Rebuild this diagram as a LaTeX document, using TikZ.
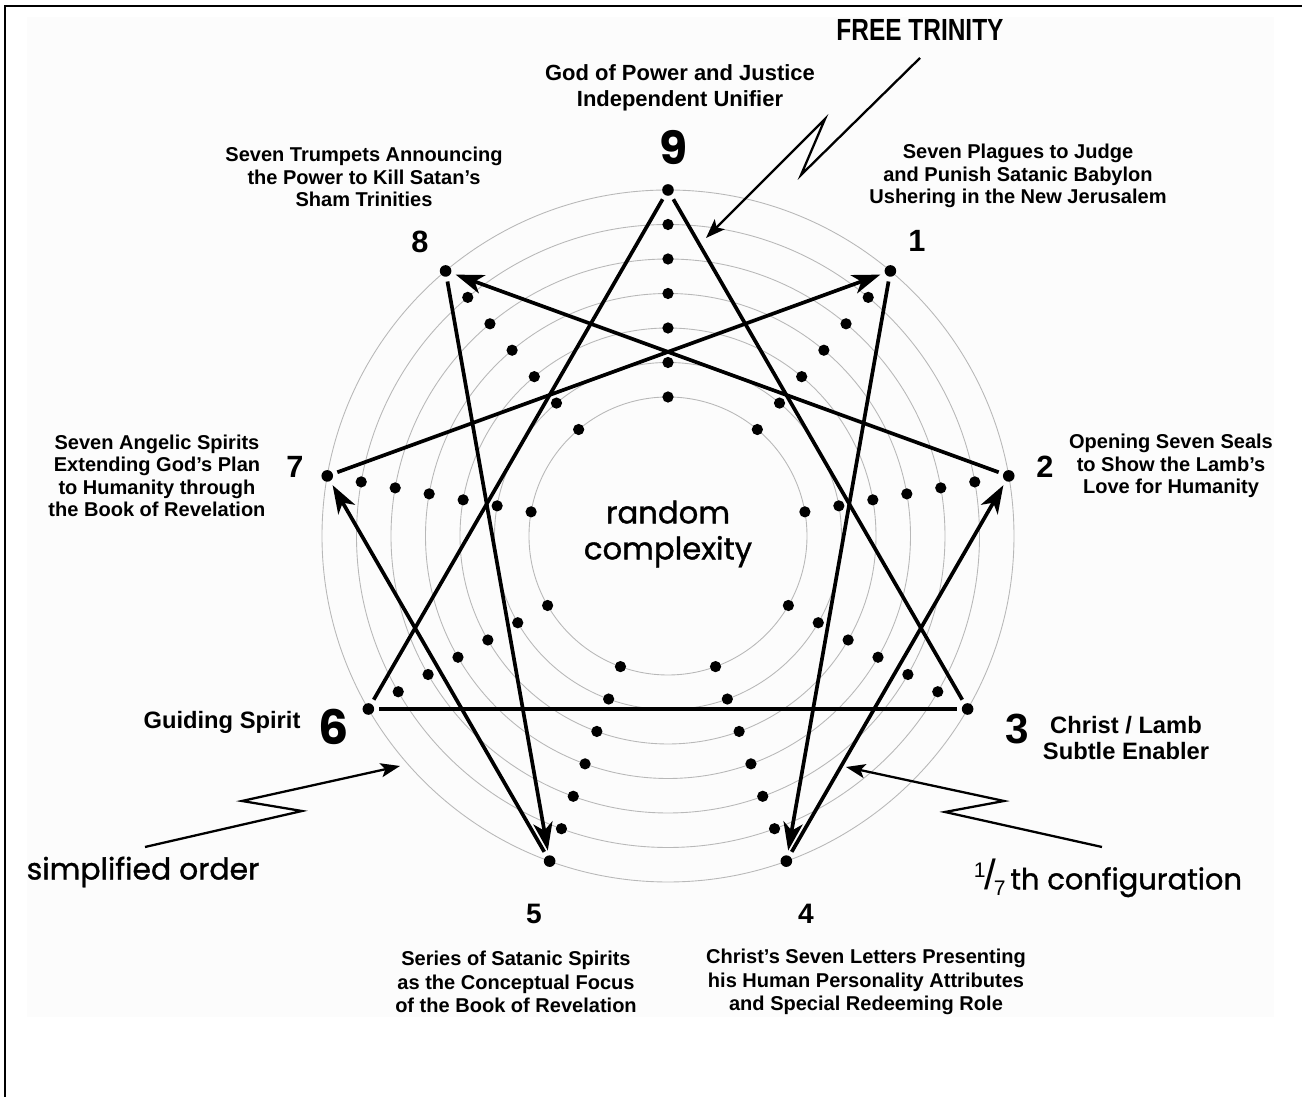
\documentclass[tikz,border=0pt]{standalone}
\usepackage{fontspec}
\setmainfont{Liberation Sans}
\newfontfamily\roundfont[FakeBold=1.2]{Poppins}
\newfontfamily\digitfont{Poppins}
\newfontfamily\narrowfont[FakeStretch=0.8]{Liberation Sans}
\usetikzlibrary{arrows.meta}

\begin{document}
\begin{tikzpicture}[x=0.02cm, y=0.02cm,
  ring/.style={draw=black!28, line width=0.5pt},
  vdot/.style={circle, fill=black, inner sep=0pt, minimum size=6.6pt},
  tri/.style={line width=2.1pt, shorten <=2.6pt, shorten >=2.6pt},
  flow/.style={tri, -{Stealth[length=16pt,width=11pt,inset=4.5pt]}},
  bolt/.style={line width=1.3pt, -{Stealth[length=11pt,width=8pt,inset=2.5pt]}},
  txt/.style={font=\fontsize{11.4}{12.8}\selectfont\bfseries, align=center},
  bigtxt/.style={font=\fontsize{13.5}{14.7}\selectfont\bfseries, align=center},
  num/.style={font=\fontsize{17.5}{18}\selectfont\bfseries},
  geotxt/.style={font=\fontsize{17}{20}\selectfont\roundfont, align=center}]
\useasboundingbox (-668,-561) rectangle (634,536);
\fill[black!1] (-641,519) rectangle (606,-481);
\draw[line width=1.1pt] (-663,-561) -- (-663,530) -- (634,530);
% rings and dots
\foreach \k in {0,...,6}
  \draw[ring] (0,0) circle ({139+34.5*\k});
\foreach \a in {0,...,8}
  \foreach \k in {0,...,5}
    \fill ({90-40*\a}:{139+34.5*\k}) circle[radius=3.2pt];
% the nine points
\path (90:346) node[vdot] (v9) {};
\path (50:346) node[vdot] (v1) {};
\path (10:346) node[vdot] (v2) {};
\path (-30:346) node[vdot] (v3) {};
\path (-70:346) node[vdot] (v4) {};
\path (-110:346) node[vdot] (v5) {};
\path (-150:346) node[vdot] (v6) {};
\path (170:346) node[vdot] (v7) {};
\path (130:346) node[vdot] (v8) {};
% triangle and hexad
\draw[tri] (v9) -- (v3);
\draw[tri] (v9) -- (v6);
\draw[tri] (v6) -- (v3);
\draw[flow] (v1) -- (v4);
\draw[flow] (v4) -- (v2);
\draw[flow] (v2) -- (v8);
\draw[flow] (v8) -- (v5);
\draw[flow] (v5) -- (v7);
\draw[flow] (v7) -- (v1);
% numbers
\path (6,388) node[font=\fontsize{26}{26}\selectfont\digitfont\bfseries] (n9) {9};
\path (249,295) node[num] (n1) {1};
\path (377,69) node[num] (n2) {2};
\path (349,-193) node[font=\fontsize{24}{24}\selectfont\bfseries] (n3) {3};
\path (138,-378) node[font=\fontsize{16}{16}\selectfont\bfseries] (n4) {4};
\path (-134,-378) node[font=\fontsize{16}{16}\selectfont\bfseries] (n5) {5};
\path (-334,-191) node[font=\fontsize{27}{27}\selectfont\digitfont\bfseries] (n6) {6};
\path (-373,69) node[num] (n7) {7};
\path (-248,294) node[num] (n8) {8};
% descriptions
\path (12,448) node[txt, font=\fontsize{12.5}{14.7}\selectfont\bfseries] (l9) {God of Power and Justice\\Independent Unifier};
\path (350,360) node[txt] (l1) {Seven Plagues to Judge\\and Punish Satanic Babylon\\Ushering in the New Jerusalem};
\path (503,70) node[txt] (l2) {Opening Seven Seals\\to Show the Lamb's\\Love for Humanity};
\path (458,-202) node[bigtxt] (l3) {Christ / Lamb\\Subtle Enabler};
\path (198,-446) node[txt, font=\fontsize{11.4}{13.3}\selectfont\bfseries] (l4) {Christ's Seven Letters Presenting\\his Human Personality Attributes\\and Special Redeeming Role};
\path (-152,-446) node[txt, font=\fontsize{11.4}{13.3}\selectfont\bfseries] (l5) {Series of Satanic Spirits\\as the Conceptual Focus\\of the Book of Revelation};
\path (-446,-186) node[bigtxt] (l6) {Guiding Spirit};
\path (-511,60) node[txt] (l7) {Seven Angelic Spirits\\Extending God's Plan\\to Humanity through\\the Book of Revelation};
\path (-304,359) node[txt] (l8) {Seven Trumpets Announcing\\the Power to Kill Satan's\\Sham Trinities};
\path (0,2) node[geotxt, font=\fontsize{17.5}{20.5}\selectfont\roundfont] (rc) {random\\complexity};
% pointers
\path (252,506) node[font=\fontsize{17.4}{18}\selectfont\narrowfont\bfseries] (ft) {FREE TRINITY};
\coordinate (ft1) at (252,478);
\coordinate (ft2) at (133,361);
\coordinate (ft3) at (157,417);
\coordinate (ft4) at (38,298);
\draw[bolt] (ft1) -- (ft2) -- (ft3) -- (ft4);
\path (-525,-336) node[geotxt] (so) {simplified order};
\coordinate (so1) at (-523,-311);
\coordinate (so2) at (-366,-275);
\coordinate (so3) at (-426,-265);
\coordinate (so4) at (-268,-230);
\draw[bolt] (so1) -- (so2) -- (so3) -- (so4);
\path (440,-342) node[geotxt, font=\fontsize{16.5}{18}\selectfont\roundfont] (sc) {{\rmfamily\raisebox{.8ex}{\fontsize{12}{10}\selectfont 1}\kern-.5pt{\fontsize{24}{24}\selectfont/}\kern-1.5pt\raisebox{-.4ex}{\fontsize{12}{10}\selectfont 7}}\,th configuration};
\coordinate (sc1) at (434,-311);
\coordinate (sc2) at (277,-276);
\coordinate (sc3) at (336,-265);
\coordinate (sc4) at (178,-231);
\draw[bolt] (sc1) -- (sc2) -- (sc3) -- (sc4);
\end{tikzpicture}
\end{document}
